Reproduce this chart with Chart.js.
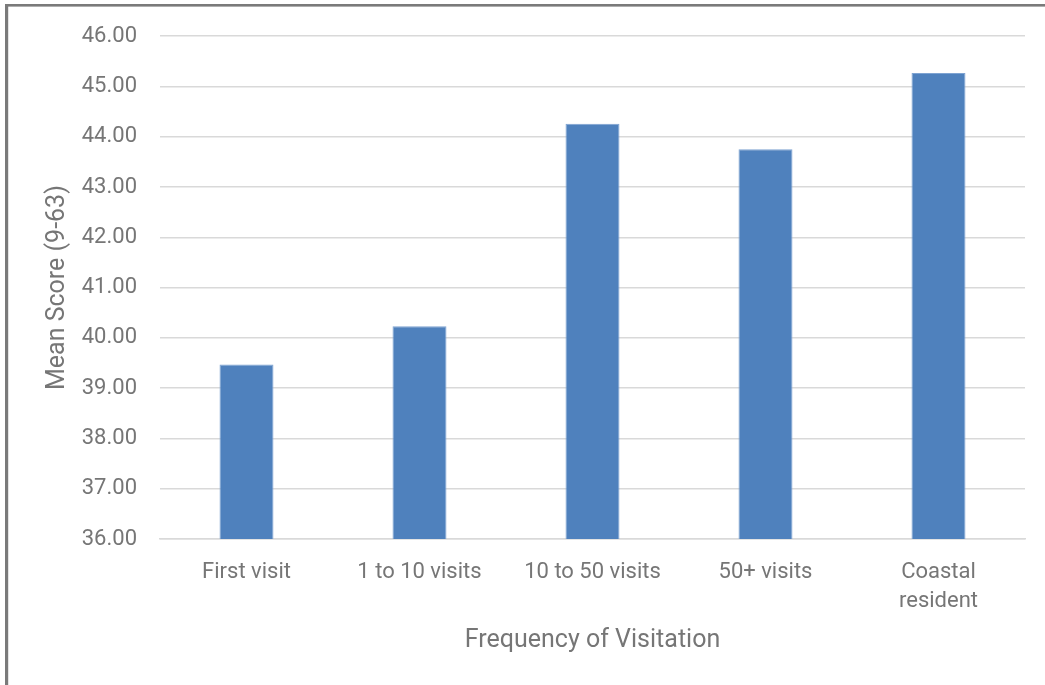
<!DOCTYPE html>
<html>
<head>
<meta charset="utf-8">
<title>Mean Score by Frequency of Visitation</title>
<script src="https://cdn.jsdelivr.net/npm/chart.js@4/dist/chart.umd.min.js"></script>
<style>
  html, body { margin: 0; padding: 0; background: #ffffff; }
  #wrap { width: 1045px; height: 685px; position: relative; }
</style>
</head>
<body>
<div id="wrap"><canvas id="chart" width="1045" height="685"></canvas></div>
<script>
// Categories (x axis) and mean scores per group
const categories = ['First visit', '1 to 10 visits', '10 to 50 visits', '50+ visits', ['Coastal', 'resident']];
const meanScores = [39.47, 40.23, 44.26, 43.75, 45.27];

// Axis range and labels
const yMin = 36;
const yMax = 46;
const yStep = 1;
const xTitle = 'Frequency of Visitation';
const yTitle = 'Mean Score (9-63)';

const textColor = '#767676';
const gridColor = '#d9d9d9';
const fontFamily = 'Roboto, "DejaVu Sans", sans-serif';

// Page frame: white background with a grey rule along the top and left edges
const framePlugin = {
  id: 'frame',
  beforeDraw(chart) {
    const ctx = chart.ctx;
    ctx.save();
    ctx.fillStyle = '#ffffff';
    ctx.fillRect(0, 0, chart.width, chart.height);
    ctx.fillStyle = '#7a7a7a';
    ctx.fillRect(5, 4, chart.width - 5, 2.6);
    ctx.fillRect(5, 4, 3.2, chart.height - 4);
    ctx.restore();
  }
};

new Chart(document.getElementById('chart'), {
  type: 'bar',
  data: {
    labels: categories,
    datasets: [{
      data: meanScores,
      backgroundColor: '#4f81bd',
      borderColor: '#7ea3d2',
      borderWidth: 1,
      categoryPercentage: 1,
      barPercentage: 0.312
    }]
  },
  options: {
    responsive: false,
    animation: false,
    devicePixelRatio: 1,
    layout: { padding: { left: 0, right: 20, top: 29, bottom: 0 } },
    plugins: {
      legend: { display: false },
      tooltip: { enabled: false }
    },
    scales: {
      x: {
        grid: { display: false, drawTicks: false },
        border: { display: true, color: gridColor, width: 1.5 },
        ticks: {
          color: textColor,
          font: { family: fontFamily, size: 22, lineHeight: 1.32 },
          padding: 18.5,
          maxRotation: 0,
          autoSkip: false
        },
        title: {
          display: true,
          text: xTitle,
          color: textColor,
          font: { family: fontFamily, size: 25, lineHeight: 1.2 },
          padding: { top: 0, bottom: 29 }
        },
        afterFit(scale) { scale.height = 146; }
      },
      y: {
        min: yMin,
        max: yMax,
        grid: { color: gridColor, lineWidth: 1.5, drawTicks: false },
        border: { display: false },
        ticks: {
          stepSize: yStep,
          color: textColor,
          font: { family: fontFamily, size: 22 },
          padding: 23,
          callback: (v) => Number(v).toFixed(2)
        },
        title: {
          display: true,
          text: yTitle,
          color: textColor,
          font: { family: fontFamily, size: 25, lineHeight: 1.2 },
          padding: { top: 43, bottom: 0 }
        },
        afterFit(scale) { scale.width = 160; }
      }
    }
  },
  plugins: [framePlugin]
});
</script>
</body>
</html>
